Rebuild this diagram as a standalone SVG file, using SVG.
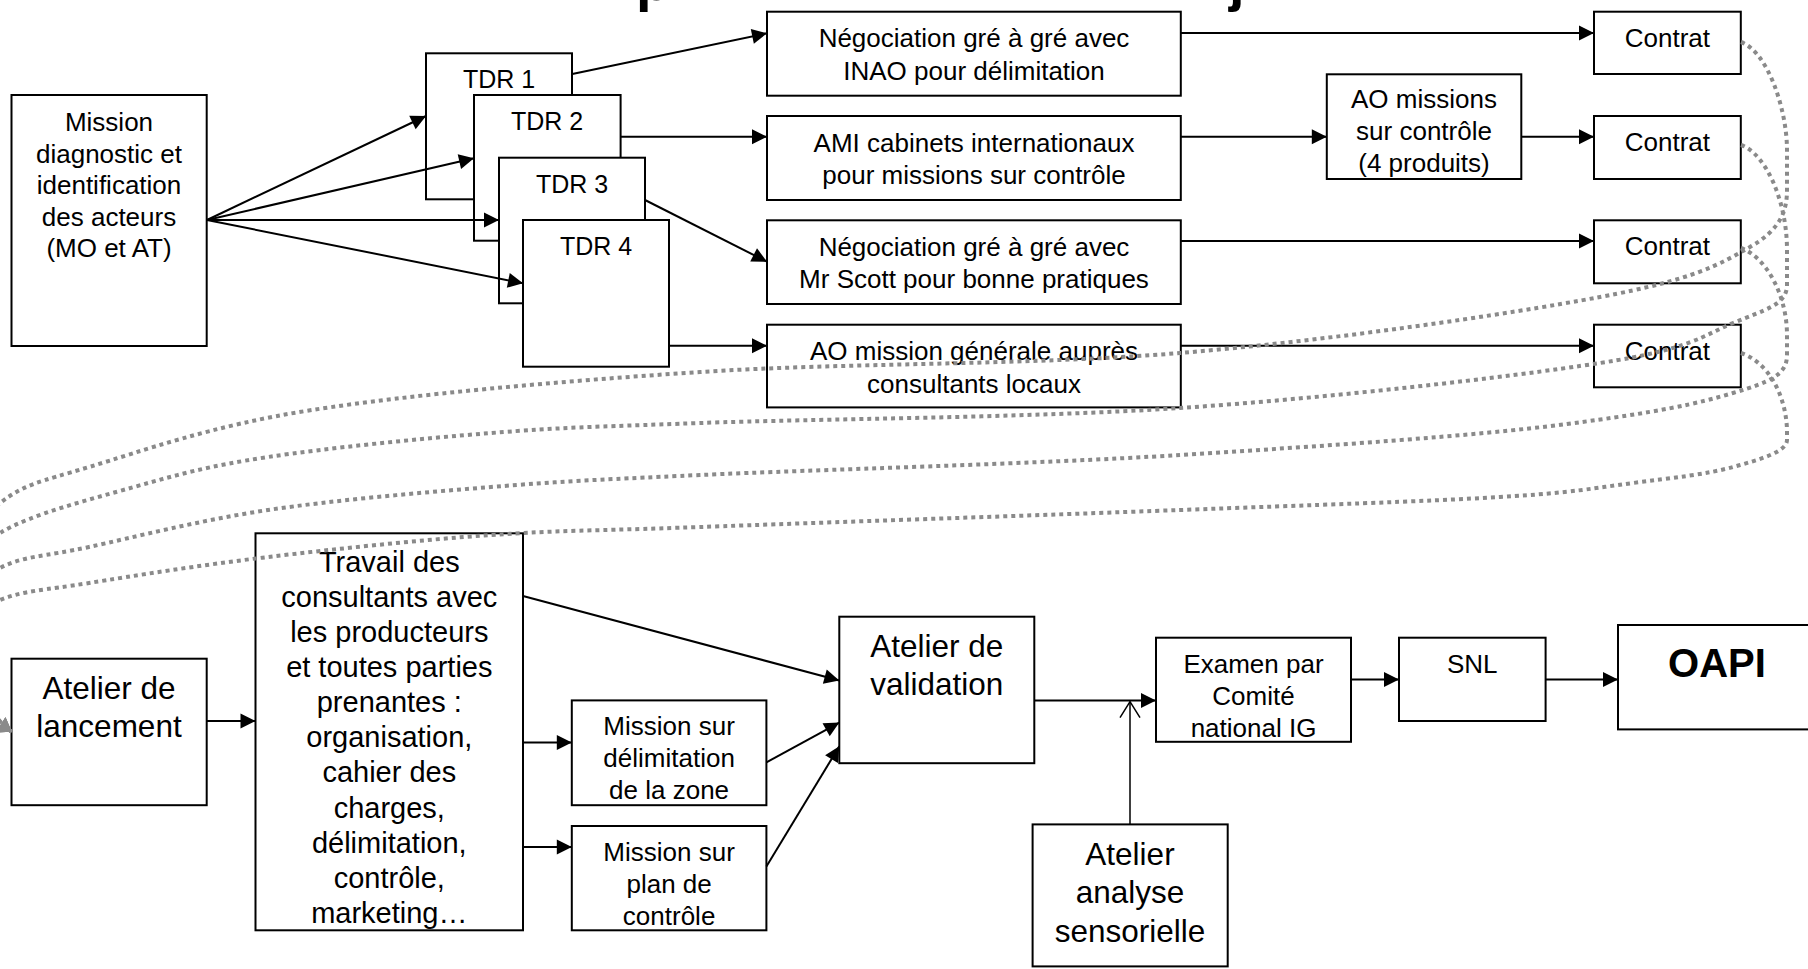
<svg xmlns="http://www.w3.org/2000/svg" width="1808" height="969" viewBox="0 0 1808 969">
<style>
.box{fill:#fff;stroke:#000;stroke-width:2}
.t{font-family:"Liberation Sans",Arial,sans-serif;font-size:26px;text-anchor:middle;fill:#000}
.tdr{font-size:25px}
.tr{font-size:29px}
.big{font-size:31.5px}
.ttl{font-family:"Liberation Sans",Arial,sans-serif;font-size:56px;font-weight:bold;fill:#000}
.ln{stroke:#000;stroke-width:2;fill:none;marker-end:url(#ah)}
.dot{stroke:#8a8a8a;stroke-width:4;stroke-dasharray:4 4;fill:none;marker-end:url(#gh)}
</style>
<defs>
<marker id="ah" markerUnits="userSpaceOnUse" markerWidth="16" markerHeight="16" refX="15" refY="7.5" orient="auto" overflow="visible"><path d="M0,0 L15,7.5 L0,15 z" fill="#000"/></marker>
<marker id="gh" markerUnits="userSpaceOnUse" markerWidth="20" markerHeight="20" refX="13" refY="9" orient="auto" overflow="visible"><path d="M0,0 L13,9 L0,18 z" fill="#8a8a8a"/></marker>
<marker id="oh" markerUnits="userSpaceOnUse" markerWidth="20" markerHeight="22" refX="16" refY="10" orient="auto" overflow="visible"><path d="M0,0 L16,10 L0,20" fill="none" stroke="#000" stroke-width="1.5"/></marker>
</defs>
<rect width="1808" height="969" fill="#fff"/>
<g id="title"><text class="ttl" x="636" y="0">p</text><text class="ttl" x="1229" y="0">j</text></g>
<g id="mission"><rect class="box" x="11.5" y="95" width="195.2" height="251"/>
<text class="t"><tspan x="109" y="131">Mission</tspan><tspan x="109" y="162.5">diagnostic et</tspan><tspan x="109" y="194">identification</tspan><tspan x="109" y="225.5">des acteurs</tspan><tspan x="109" y="257">(MO et AT)</tspan></text></g>
<g id="tdr1"><rect class="box" x="426" y="53.3" width="146" height="146"/><text class="t tdr" x="499" y="88.3">TDR 1</text></g>
<g id="tdr2"><rect class="box" x="474" y="95" width="146.6" height="145.7"/><text class="t tdr" x="547" y="130">TDR 2</text></g>
<g id="tdr3"><rect class="box" x="499" y="157.7" width="146" height="145.6"/><text class="t tdr" x="572" y="192.7">TDR 3</text></g>
<g id="tdr4"><rect class="box" x="523" y="220" width="146" height="146.7"/><text class="t tdr" x="596" y="255.3">TDR 4</text></g>
<g id="nego-inao"><rect class="box" x="767" y="11.7" width="413.8" height="84"/>
<text class="t"><tspan x="974" y="47">Négociation gré à gré avec</tspan><tspan x="974" y="79.5">INAO pour délimitation</tspan></text></g>
<g id="ami"><rect class="box" x="767" y="116" width="413.8" height="84"/>
<text class="t"><tspan x="974" y="151.5">AMI cabinets internationaux</tspan><tspan x="974" y="184">pour missions sur contrôle</tspan></text></g>
<g id="nego-scott"><rect class="box" x="767" y="220.3" width="413.8" height="83.7"/>
<text class="t"><tspan x="974" y="255.8">Négociation gré à gré avec</tspan><tspan x="974" y="288.3">Mr Scott pour bonne pratiques</tspan></text></g>
<g id="ao-generale"><rect class="box" x="767" y="324.7" width="413.8" height="82.7"/>
<text class="t"><tspan x="974" y="360">AO mission générale auprès</tspan><tspan x="974" y="392.5">consultants locaux</tspan></text></g>
<g id="ao-controle"><rect class="box" x="1326.8" y="74.3" width="194.5" height="104.7"/>
<text class="t"><tspan x="1424" y="108.3">AO missions</tspan><tspan x="1424" y="140">sur contrôle</tspan><tspan x="1424" y="171.7">(4 produits)</tspan></text></g>
<g id="contrat1"><rect class="box" x="1594" y="11.7" width="146.8" height="62.3"/><text class="t" x="1667.4" y="46.7">Contrat</text></g>
<g id="contrat2"><rect class="box" x="1594" y="116" width="146.8" height="63"/><text class="t" x="1667.4" y="150.5">Contrat</text></g>
<g id="contrat3"><rect class="box" x="1594" y="220.3" width="146.8" height="63"/><text class="t" x="1667.4" y="254.8">Contrat</text></g>
<g id="contrat4"><rect class="box" x="1594" y="324.7" width="146.8" height="62.6"/><text class="t" x="1667.4" y="360">Contrat</text></g>
<g id="lancement"><rect class="box" x="11.5" y="658.7" width="195.2" height="146.5"/>
<text class="t big"><tspan x="109" y="699.3">Atelier de</tspan><tspan x="109" y="737">lancement</tspan></text></g>
<g id="travail"><rect class="box" x="255.5" y="533.3" width="267.5" height="397"/>
<text class="t tr"><tspan x="389.3" y="571.8">Travail des</tspan><tspan x="389.3" y="606.9">consultants avec</tspan><tspan x="389.3" y="642">les producteurs</tspan><tspan x="389.3" y="677.1">et toutes parties</tspan><tspan x="389.3" y="712.2">prenantes :</tspan><tspan x="389.3" y="747.3">organisation,</tspan><tspan x="389.3" y="782.4">cahier des</tspan><tspan x="389.3" y="817.5">charges,</tspan><tspan x="389.3" y="852.6">délimitation,</tspan><tspan x="389.3" y="887.7">contrôle,</tspan><tspan x="389.3" y="922.8">marketing…</tspan></text></g>
<g id="mission-delim"><rect class="box" x="571.8" y="700.4" width="194.6" height="104.8"/>
<text class="t"><tspan x="669.1" y="735">Mission sur</tspan><tspan x="669.1" y="767">délimitation</tspan><tspan x="669.1" y="799">de la zone</tspan></text></g>
<g id="mission-plan"><rect class="box" x="571.8" y="826" width="194.6" height="104.3"/>
<text class="t"><tspan x="669.1" y="861">Mission sur</tspan><tspan x="669.1" y="893">plan de</tspan><tspan x="669.1" y="925">contrôle</tspan></text></g>
<g id="validation"><rect class="box" x="839.3" y="616.7" width="195" height="146.5"/>
<text class="t big"><tspan x="936.8" y="657">Atelier de</tspan><tspan x="936.8" y="695">validation</tspan></text></g>
<g id="examen"><rect class="box" x="1156" y="637.7" width="195" height="104.1"/>
<text class="t"><tspan x="1253.5" y="673">Examen par</tspan><tspan x="1253.5" y="705">Comité</tspan><tspan x="1253.5" y="737">national IG</tspan></text></g>
<g id="snl"><rect class="box" x="1399" y="637.7" width="146.6" height="83.3"/><text class="t" x="1472.3" y="673">SNL</text></g>
<g id="oapi"><rect class="box" x="1618" y="625" width="198" height="104.4"/><text class="t" x="1717" y="677" style="font-size:40px;font-weight:bold">OAPI</text></g>
<g id="analyse"><rect class="box" x="1032.6" y="824.4" width="195.1" height="142"/>
<text class="t big"><tspan x="1130" y="864.5">Atelier</tspan><tspan x="1130" y="903">analyse</tspan><tspan x="1130" y="941.5">sensorielle</tspan></text></g>
<g id="connectors">
<path class="ln" d="M207,220 L426,116"/>
<path class="ln" d="M207,220 L474,158.3"/>
<path class="ln" d="M207,220 L499,220"/>
<path class="ln" d="M207,220 L523,283.3"/>
<path class="ln" d="M572.3,74 L767,33.3"/>
<path class="ln" d="M620.6,136.7 L767,136.7"/>
<path class="ln" d="M645,200 L767,261.7"/>
<path class="ln" d="M669,345.7 L767,345.7"/>
<path class="ln" d="M1180.8,33 L1594,33"/>
<path class="ln" d="M1180.8,136.7 L1326.8,136.7"/>
<path class="ln" d="M1521.3,136.7 L1594,136.7"/>
<path class="ln" d="M1180.8,241 L1594,241"/>
<path class="ln" d="M1180.8,345.7 L1594,345.7"/>
<path class="ln" d="M206.7,721 L255.5,721"/>
<path class="ln" d="M523,742.5 L571.8,742.5"/>
<path class="ln" d="M523,847 L571.8,847"/>
<path class="ln" d="M523,596 L839.3,680.5"/>
<path class="ln" d="M766.4,762.4 L839.3,722.6"/>
<path class="ln" d="M766.4,866.5 L839.3,746.3"/>
<path class="ln" d="M1034.3,700.4 L1156,700.4"/>
<path class="ln" d="M1351,679.4 L1399,679.4"/>
<path class="ln" d="M1545.6,679.4 L1618,679.4"/>
<path d="M1130,824.4 L1130,701.7" fill="none" stroke="#000" stroke-width="1.5" marker-end="url(#oh)"/>
<path class="dot" d="M1741,42 C1768,52 1787,110 1787,150 L1787,190 C1787,210 1781.2,229.2 1750,247 C1718.8,264.8 1695,279.3 1600,297 C1505,314.7 1330,340.5 1180,353 C1030,365.5 844.7,362.5 700,372 C555.3,381.5 413.8,394.2 312,410 C210.2,425.8 141,451.5 89,467 C37,482.5 24.8,484.2 0,503 C-24.8,521.8 -45,696 11.7,731.7"/>
<path class="dot" d="M1741,145 C1765,153 1787,200 1787,250 L1787,285 C1787,305 1764.2,310 1733,323 C1701.8,336 1692.2,348.8 1600,363 C1507.8,377.2 1330,398 1180,408 C1030,418 814.8,418.8 700,423 C585.2,427.2 563,427.3 491,433 C419,438.7 327.5,448 268,457 C208.5,466 178.7,474.3 134,487 C89.3,499.7 30.7,514.2 0,533 C-30.7,551.8 -45,696 11.7,731.7"/>
<path class="dot" d="M1741,248 C1766,257 1787,295 1787,335 L1787,355 C1787,375 1769.7,382 1733,393 C1696.3,404 1659.2,412 1567,424 C1474.8,436 1324.5,446 1180,455 C1035.5,464 814.8,469.7 700,475 C585.2,480.3 563,481.2 491,487 C419,492.8 335,500 268,510 C201,520 133.7,537.3 89,547 C44.3,556.7 23.2,555.8 0,568 C-23.2,580.2 -45,696 11.7,731.7"/>
<path class="dot" d="M1741,353 C1768,362 1786,395 1787,430 L1787,440 C1787,452 1758.7,459.8 1733,467 C1707.3,474.2 1671.8,478 1633,483 C1594.2,488 1575.5,492.5 1500,497 C1424.5,501.5 1313.3,505 1180,510 C1046.7,515 814.8,522.8 700,527 C585.2,531.2 563,530 491,535 C419,540 335,549 268,557 C201,565 133.7,575.8 89,583 C44.3,590.2 23.2,590.5 0,600 C-23.2,609.5 -45,696 11.7,731.7"/>
</g>
</svg>
